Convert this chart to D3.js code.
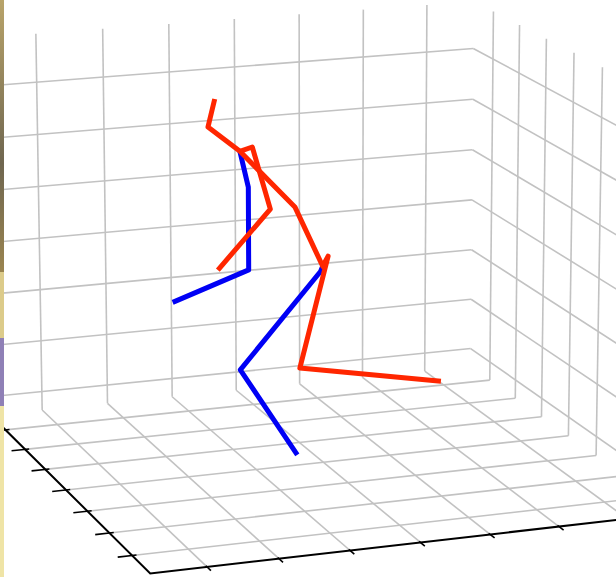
<!DOCTYPE html>
<html><head><meta charset="utf-8">
<script src="https://cdn.jsdelivr.net/npm/d3@7"></script>
<style>body{margin:0;background:#fff;overflow:hidden}</style>
</head><body>
<svg id="chart" width="616" height="577"></svg>
<script>
const W = 616, H = 577

// axis limits and ticks (tick units)
const xLim = [-0.782, 6.742]
const yLim = [-0.775, 6.775]
const zLim = [-0.364, 6.920]
const xTicks = [0, 1, 2, 3, 4, 5, 6]
const yTicks = [0, 1, 2, 3, 4, 5, 6]
const zTicks = [0, 1, 2, 3, 4, 5, 6]

// skeleton joints
const jointNames = ["hip", "rhip", "rknee", "rfoot", "lhip", "lknee", "lfoot", "spine", "thorax",
  "neck", "head", "lsho", "lelb", "lwri", "rsho", "relb", "rwri"]
const jointX = [2.99, 3.07, 2.65, 4.77, 2.96, 1.77, 2.61, 2.58, 1.78, 1.32, 1.42, 1.90, 1.90, 0.79, 1.96, 2.22, 1.45]
const jointY = [3, 3, 3, 3, 3, 3, 3, 3, 3, 3, 3, 3, 3, 3, 3, 3, 3]
const jointZ = [3.34, 3.52, 1.47, 0.95, 3.25, 1.55, -0.17, 4.49, 5.60, 6.09, 6.59, 4.93, 3.40, 2.93, 5.66, 4.49, 3.45]

// chains: [color, joints]
const redChains = [
  ["head", "neck", "thorax", "spine", "hip", "rhip", "rknee", "rfoot"],
  ["thorax", "rsho", "relb", "rwri"]
]
const blueChains = [
  ["hip", "lhip", "lknee", "lfoot"],
  ["thorax", "lsho", "lelb", "lwri"]
]

// camera
const ELEV = 0.2638, AZIM = -0.3467, DIST = 4561.6
const CX = 323.39, CY = 284.4

const xs = d3.scaleLinear().domain([3, 4]).range([0, 71.705])
const ys = d3.scaleLinear().domain([3, 4]).range([0, 72.376])
const zs = d3.scaleLinear().domain([3, 4]).range([0, 55.342])

const ce = Math.cos(ELEV), se = Math.sin(ELEV), ca = Math.cos(AZIM), sa = Math.sin(AZIM)
const vDir = [sa * ce, ca * ce, se]
const rDir = [ca, -sa, 0]
const uDir = [-sa * se, -ca * se, ce]
const dot = (a, b) => a[0] * b[0] + a[1] * b[1] + a[2] * b[2]

function proj(X, Y, Z) {
  const p = [xs(X), ys(Y), zs(Z)]
  const w = DIST - dot(vDir, p)
  return [CX + DIST * dot(rDir, p) / w, CY - DIST * dot(uDir, p) / w]
}

const svg = d3.select("#chart")
const line = d3.line()
const seg = (a, b) => line([proj(...a), proj(...b)])

const [X0, X1] = xLim, [Y0, Y1] = yLim, [Z0, Z1] = zLim

// --- grid ---
const gridG = svg.append("g")
  .attr("fill", "none")
  .attr("stroke", "#c2c2c2")
  .attr("stroke-width", 1.6)

const gridSegs = []
xTicks.forEach(i => gridSegs.push([[i, Y0, Z0], [i, Y1, Z0]]))
yTicks.forEach(j => gridSegs.push([[X0, j, Z0], [X1, j, Z0]]))
xTicks.forEach(i => gridSegs.push([[i, Y0, Z0], [i, Y0, Z1]]))
zTicks.forEach(k => gridSegs.push([[X0, Y0, k], [X1, Y0, k]]))
yTicks.forEach(j => gridSegs.push([[X1, j, Z0], [X1, j, Z1]]))
zTicks.forEach(k => gridSegs.push([[X1, Y0, k], [X1, Y1, k]]))

gridG.selectAll("path")
  .data(gridSegs)
  .join("path")
  .attr("d", d => seg(d[0], d[1]))

// --- axes ---
const axisG = svg.append("g")
  .attr("fill", "none")
  .attr("stroke", "#000")

axisG.append("path")
  .attr("d", line([proj(X0, Y0, Z0), proj(X0, Y1, Z0), proj(X1 + 3, Y1, Z0)]))
  .attr("stroke-width", 2)
  .attr("stroke-linejoin", "miter")

yTicks.forEach(j => {
  axisG.append("path")
    .attr("d", seg([X0 - 0.2, j, Z0], [X0 + 0.06, j, Z0]))
    .attr("stroke-width", 1.6)
})
xTicks.forEach(i => {
  axisG.append("path")
    .attr("d", seg([i, Y1 - 0.05, Z0], [i, Y1 + 0.16, Z0]))
    .attr("stroke-width", 1.6)
})

// --- skeleton ---
const jointIndex = {}
jointNames.forEach((n, i) => { jointIndex[n] = i })
const pt = n => {
  const i = jointIndex[n]
  return proj(jointX[i], jointY[i], jointZ[i])
}

const skelG = svg.append("g")
  .attr("fill", "none")
  .attr("stroke-width", 5)
  .attr("stroke-linejoin", "round")
  .attr("stroke-linecap", "butt")

blueChains.forEach(c => {
  skelG.append("path").attr("d", line(c.map(pt))).attr("stroke", "#0000f5")
})
redChains.forEach(c => {
  skelG.append("path").attr("d", line(c.map(pt))).attr("stroke", "#ff2600")
})

// --- strip of the neighbouring frame on the left edge ---
const strip = svg.append("g")
const stripDef = svg.append("defs").append("linearGradient")
  .attr("id", "stripTop").attr("x1", 0).attr("x2", 0).attr("y1", 0).attr("y2", 1)
stripDef.append("stop").attr("offset", "0%").attr("stop-color", "#b9a46a")
stripDef.append("stop").attr("offset", "60%").attr("stop-color", "#6f6650")
stripDef.append("stop").attr("offset", "100%").attr("stop-color", "#9a8450")
strip.append("rect").attr("x", 0).attr("y", 0).attr("width", 4).attr("height", 272).attr("fill", "url(#stripTop)")
strip.append("rect").attr("x", 0).attr("y", 272).attr("width", 4).attr("height", 66).attr("fill", "#dccb8a")
strip.append("rect").attr("x", 0).attr("y", 338).attr("width", 4).attr("height", 68).attr("fill", "#8f80b6")
strip.append("rect").attr("x", 0).attr("y", 406).attr("width", 4).attr("height", 171).attr("fill", "#efe4a6")
</script>
</body></html>
